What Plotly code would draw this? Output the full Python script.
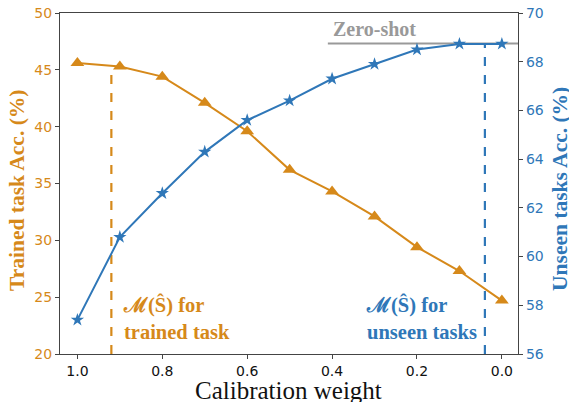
import plotly.graph_objects as go

# Data
weights = [1.0, 0.9, 0.8, 0.7, 0.6, 0.5, 0.4, 0.3, 0.2, 0.1, 0.0]
trained_acc = [45.6, 45.3, 44.4, 42.1, 39.6, 36.2, 34.3, 32.1, 29.4, 27.3, 24.7]
unseen_acc = [57.4, 60.8, 62.6, 64.3, 65.6, 66.4, 67.3, 67.9, 68.5, 68.73, 68.73]
zero_shot = 68.75
x_ticks = [1.0, 0.8, 0.6, 0.4, 0.2, 0.0]
x_tick_labels = ["1.0", "0.8", "0.6", "0.4", "0.2", "0.0"]
best_trained_w = 0.92
best_trained_y = 45.3
best_unseen_w = 0.04
best_unseen_y = 68.73

ORANGE = "#D6891A"
BLUE = "#2F77B8"
GRAY = "#999999"
SERIF = "Liberation Serif"

fig = go.Figure()
fig.add_trace(go.Scatter(
    x=weights, y=trained_acc, mode="lines+markers",
    line=dict(color=ORANGE, width=2),
    marker=dict(symbol="triangle-up", size=12, color=ORANGE),
    yaxis="y", showlegend=False))
fig.add_trace(go.Scatter(
    x=weights, y=unseen_acc, mode="lines+markers",
    line=dict(color=BLUE, width=2),
    marker=dict(symbol="star", size=10, color=BLUE),
    yaxis="y2", showlegend=False))

shapes = [
    dict(type="line", xref="x", yref="y", x0=best_trained_w, x1=best_trained_w,
         y0=20, y1=best_trained_y, line=dict(color=ORANGE, width=2.2, dash="dash"), layer="below"),
    dict(type="line", xref="x", yref="y2", x0=best_unseen_w, x1=best_unseen_w,
         y0=56, y1=best_unseen_y, line=dict(color=BLUE, width=2.2, dash="dash"), layer="below"),
    dict(type="line", xref="x", yref="y2", x0=0.41, x1=-0.038,
         y0=zero_shot, y1=zero_shot, line=dict(color=GRAY, width=2), layer="below"),
]

annotations = [
    dict(x=0.30, y=69.35, xref="x", yref="y2", text="<b>Zero-shot</b>", showarrow=False,
         font=dict(family=SERIF, size=20, color=GRAY), xanchor="center", yanchor="middle"),
    dict(x=0.897, y=23.2, xref="x", yref="y", text="<b>ℳ(Ŝ) for<br>trained task</b>",
         showarrow=False, align="left", xanchor="left", yanchor="middle",
         font=dict(family=SERIF, size=20.5, color=ORANGE)),
    dict(x=0.055, y=23.2, xref="x", yref="y", text="<b>ℳ(Ŝ) for<br>unseen tasks</b>",
         showarrow=False, align="left", xanchor="right", yanchor="middle",
         font=dict(family=SERIF, size=20.5, color=BLUE)),
    # axis titles
    dict(x=0.498, y=0, xref="paper", yref="paper", yshift=-36, text="Calibration weight",
         showarrow=False, xanchor="center", yanchor="middle",
         font=dict(family=SERIF, size=25, color="#111")),
    dict(x=0, y=0.478, xref="paper", yref="paper", xshift=-43, textangle=-90,
         text="<b>Trained task Acc. (%)</b>", showarrow=False, xanchor="center", yanchor="middle",
         font=dict(family=SERIF, size=21.5, color=ORANGE)),
    dict(x=1, y=0.484, xref="paper", yref="paper", xshift=42, textangle=-90,
         text="<b>Unseen tasks Acc. (%)</b>", showarrow=False, xanchor="center", yanchor="middle",
         font=dict(family=SERIF, size=21.5, color=BLUE)),
]

fig.update_layout(
    width=569, height=402,
    margin=dict(l=60, r=51, t=13, b=48),
    plot_bgcolor="white", paper_bgcolor="white",
    shapes=shapes, annotations=annotations,
    xaxis=dict(
        range=[1.041, -0.038], tickvals=x_ticks, ticktext=x_tick_labels, automargin=False,
        showgrid=False, zeroline=False, showline=True, linecolor="#444", linewidth=1.2,
        mirror=True, ticks="outside", ticklen=4, tickcolor="#444", ticklabeloverflow="allow",
        tickfont=dict(family="DejaVu Sans", size=14, color="#111"),
    ),
    yaxis=dict(
        range=[20, 50], dtick=5, showgrid=False, zeroline=False, automargin=False,
        showline=True, linecolor="#444", linewidth=1.2, ticks="outside", ticklen=4, tickcolor="#444",
        ticklabeloverflow="allow",
        tickfont=dict(family="DejaVu Sans", size=14, color=ORANGE),
    ),
    yaxis2=dict(
        range=[56, 70], dtick=2, overlaying="y", side="right", showgrid=False, zeroline=False,
        automargin=False, ticklabeloverflow="allow",
        showline=True, linecolor="#444", linewidth=1.2, ticks="outside", ticklen=4, tickcolor="#444",
        tickfont=dict(family="DejaVu Sans", size=14, color=BLUE),
    ),
)

fig.write_html("out.html", config={"displayModeBar": False},
               post_script="document.body.style.margin='0px';")
